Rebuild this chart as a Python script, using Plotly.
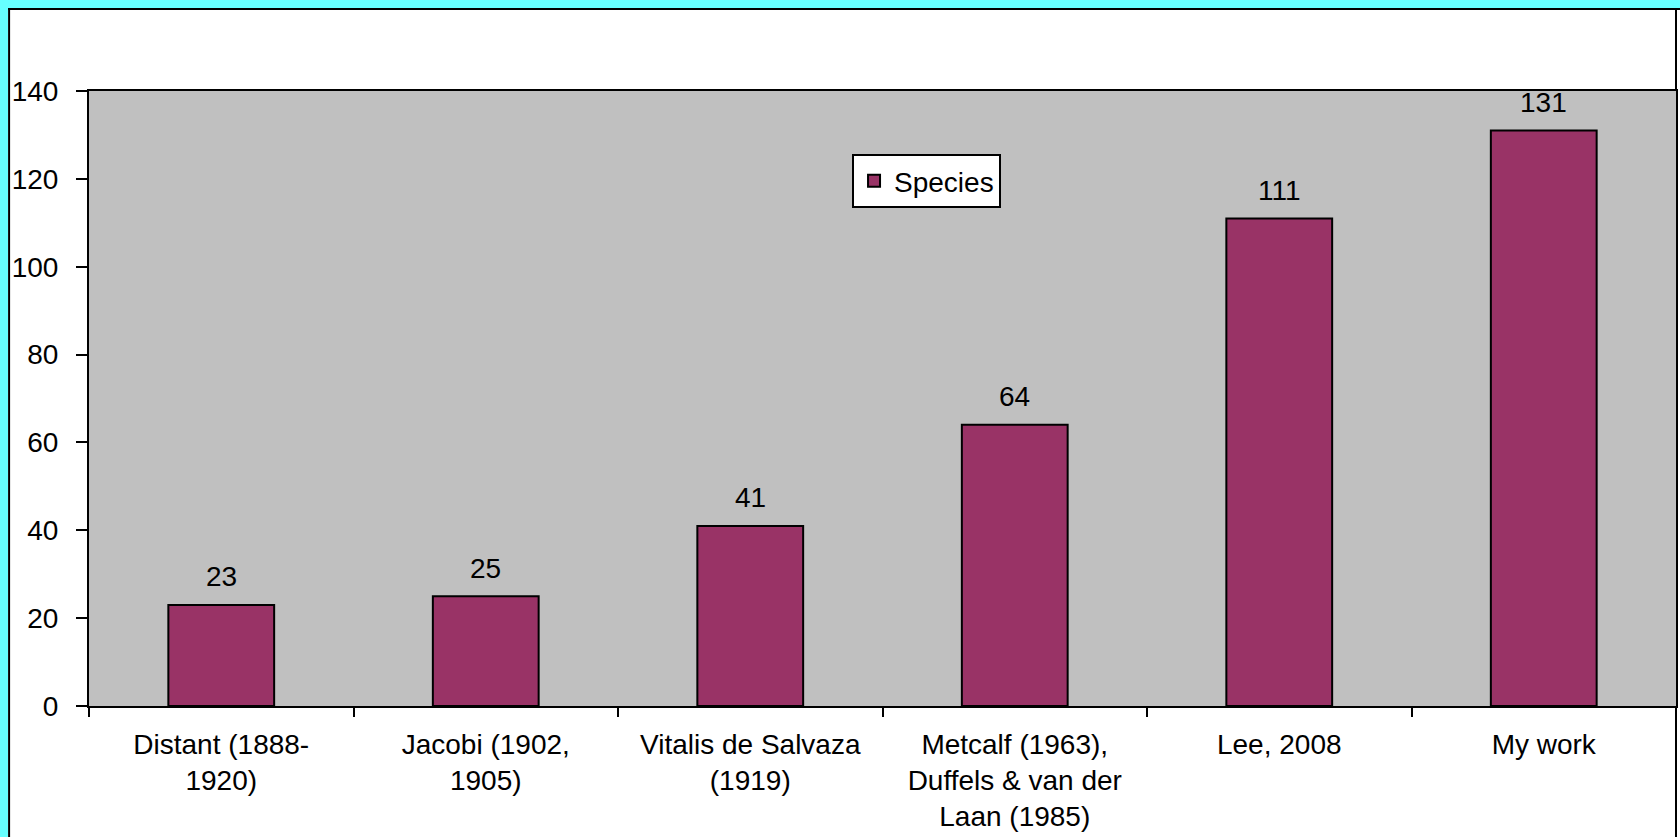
import plotly.graph_objects as go

categories = [
    "Distant (1888-<br>1920)",
    "Jacobi (1902,<br>1905)",
    "Vitalis de Salvaza<br>(1919)",
    "Metcalf (1963),<br>Duffels & van der<br>Laan (1985)",
    "Lee, 2008",
    "My work",
]
species = [23, 25, 41, 64, 111, 131]
y_ticks = [0, 20, 40, 60, 80, 100, 120, 140]

W, H = 1680, 837
ML, MR, MT, MB = 89, 2, 91, 131
pw = W - ML - MR
ph = H - MT - MB

FONT = "Liberation Sans, Arial, sans-serif"
FS = 28


def px_x(p):
    return (p - ML) / pw


def px_y(p):
    return (H - MB - p) / ph


fig = go.Figure()
fig.add_trace(go.Bar(
    x=categories, y=species, name="Species",
    marker=dict(color="#993366", line=dict(color="black", width=2)),
    showlegend=True,
))

for c, v in zip(categories, species):
    fig.add_annotation(x=c, y=v, text=str(v), showarrow=False,
                       yanchor="middle", yshift=28,
                       font=dict(family=FONT, size=FS, color="black"))

# cyan frame strips (left and top) and black inner border lines
fig.add_shape(type="rect", xref="paper", yref="paper", x0=px_x(-2), x1=px_x(8),
              y0=px_y(H + 2), y1=px_y(-2), fillcolor="#66FFFF", line=dict(width=0), layer="below")
fig.add_shape(type="rect", xref="paper", yref="paper", x0=px_x(-2), x1=px_x(W + 2),
              y0=px_y(8), y1=px_y(-2), fillcolor="#66FFFF", line=dict(width=0), layer="below")
fig.add_shape(type="line", xref="paper", yref="paper", x0=px_x(9), x1=px_x(9),
              y0=px_y(H + 2), y1=px_y(8), line=dict(color="black", width=2), layer="below")
fig.add_shape(type="line", xref="paper", yref="paper", x0=px_x(8), x1=px_x(W + 2),
              y0=px_y(9), y1=px_y(9), line=dict(color="black", width=2), layer="below")
fig.add_shape(type="line", xref="paper", yref="paper", x0=px_x(W - 2), x1=px_x(W - 2),
              y0=px_y(H + 2), y1=px_y(9), line=dict(color="black", width=2), layer="below")
fig.add_shape(type="rect", xref="paper", yref="paper", x0=0, x1=1, y0=0, y1=1,
              fillcolor="#C0C0C0", line=dict(width=0), layer="below")

fig.update_layout(
    width=W, height=H,
    margin=dict(l=ML, r=MR, t=MT, b=MB, pad=0),
    paper_bgcolor="white",
    plot_bgcolor="#C0C0C0",
    font=dict(family=FONT, size=FS, color="black"),
    bargap=0.6,
    legend=dict(x=px_x(853), y=px_y(154), xanchor="left", yanchor="top",
                bgcolor="white", bordercolor="black", borderwidth=2,
                font=dict(family=FONT, size=FS, color="black")),
    xaxis=dict(type="category", showgrid=False, showline=True, linecolor="black", linewidth=2,
               mirror=True, ticks="outside", tickson="boundaries", ticklen=9, tickwidth=2,
               tickcolor="black", ticklabelstandoff=12,
               tickfont=dict(family=FONT, size=FS, color="black")),
    yaxis=dict(range=[0, 140], tickvals=y_ticks, showgrid=False, zeroline=False, showline=True,
               linecolor="black", linewidth=2, mirror=True, ticks="outside", ticklen=11,
               tickwidth=2, tickcolor="black", ticklabelstandoff=12,
               tickfont=dict(family=FONT, size=FS, color="black")),
)

fig.write_html("out.html", config={"displayModeBar": False},
               post_script="document.body.style.margin='0px';")
